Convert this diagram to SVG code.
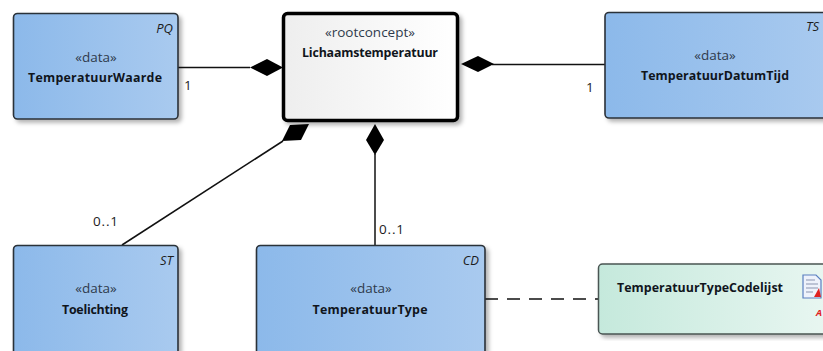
<svg xmlns="http://www.w3.org/2000/svg" width="823" height="351" viewBox="0 0 823 351">
<style>
text{font-family:"Open Sans","Noto Sans","DejaVu Sans",sans-serif;font-size:13px;text-anchor:middle;fill:#111}
.st{fill:#2f3b4c;font-size:13.500px}
.nm{font-weight:700;fill:#10151c;font-size:12.400px}
.tag{font-style:italic;text-anchor:end;font-size:13px;fill:#1c1c1c}
.mul{text-anchor:start;fill:#1c1c1c;font-size:13.500px}
.box{fill:url(#blue);stroke:#2b3138;stroke-width:1.6}
.con{stroke:#111;stroke-width:1.5;fill:none}
</style>
<defs>
<linearGradient id="blue"><stop offset="0" stop-color="#8cb9ea"/><stop offset="1" stop-color="#a9caef"/></linearGradient>
<linearGradient id="white"><stop offset="0" stop-color="#eeeeee"/><stop offset="1" stop-color="#ffffff"/></linearGradient>
<linearGradient id="green"><stop offset="0" stop-color="#c5e9dc"/><stop offset="1" stop-color="#eaf7f2"/></linearGradient>
<filter id="sh" x="-5%" y="-5%" width="112%" height="115%"><feDropShadow dx="3" dy="3" stdDeviation="2" flood-color="#000" flood-opacity=".3"/></filter>
</defs>
<g id="connectors">
<path class="con" d="M178 67.500H250"/>
<path fill="#000" d="M283 67.500L267 59L250 67.500L267 76Z"/>
<path class="con" d="M605 64.500H492"/>
<path fill="#000" d="M461 64L478 56L494 64L478 72Z"/>
<path class="con" d="M375 245V154"/>
<path fill="#000" d="M375 124L384 140L375 155L366 140Z"/>
<path class="con" d="M122 245L283 141"/>
<path fill="#000" d="M309 124L290 125L282 141L301 140Z"/>
<path class="con" d="M485 299H598" stroke-dasharray="13 9"/>
</g>
<g id="TemperatuurWaarde">
<rect class="box" x="13.500" y="13.500" width="164.500" height="105.500" rx="4" filter="url(#sh)"/>
<text class="tag" x="173" y="33">PQ</text>
<text class="st" x="96" y="62">«data»</text>
<text class="nm" x="95" y="82" textLength="134">TemperatuurWaarde</text>
</g>
<g id="Lichaamstemperatuur">
<rect x="283.500" y="13.500" width="174" height="107" rx="4" fill="url(#white)" stroke="#000" stroke-width="3.500" filter="url(#sh)"/>
<text class="st" x="370" y="37">«rootconcept»</text>
<text class="nm" x="370" y="57" textLength="136">Lichaamstemperatuur</text>
</g>
<g id="TemperatuurDatumTijd">
<rect class="box" x="605" y="12.500" width="225" height="105.500" rx="4" filter="url(#sh)"/>
<text class="tag" x="819" y="31">TS</text>
<text class="st" x="715" y="60">«data»</text>
<text class="nm" x="715" y="80" textLength="148">TemperatuurDatumTijd</text>
</g>
<g id="Toelichting">
<rect class="box" x="13.500" y="245.500" width="164.500" height="115" rx="4" filter="url(#sh)"/>
<text class="tag" x="173" y="265">ST</text>
<text class="st" x="96" y="293">«data»</text>
<text class="nm" x="95" y="314" textLength="66">Toelichting</text>
</g>
<g id="TemperatuurType">
<rect class="box" x="256.500" y="245.500" width="228.500" height="115" rx="4" filter="url(#sh)"/>
<text class="tag" x="479" y="265">CD</text>
<text class="st" x="371" y="293">«data»</text>
<text class="nm" x="370" y="314" textLength="115">TemperatuurType</text>
</g>
<g id="TemperatuurTypeCodelijst">
<rect x="598.500" y="264" width="240" height="70" rx="4" fill="url(#green)" stroke="#4a5552" stroke-width="1.500" filter="url(#sh)"/>
<text class="nm" x="700" y="292" textLength="166">TemperatuurTypeCodelijst</text>
<path d="M803 275H816L821 280V298H803Z" fill="#eef2fb" stroke="#5a7fc0" stroke-width="1.200"/>
<path d="M806 280H815M806 284H818M806 288H818M806 292H813" stroke="#8a94b0" stroke-width="1.200" fill="none"/>
<path d="M814 297L819 288L821 297Z" fill="#e02020"/>
<text x="816" y="316" style="fill:#e02020;font-style:italic;font-weight:700;font-size:9.500px;text-anchor:start">A</text>
</g>
<g id="labels">
<text class="mul" x="184" y="90">1</text>
<text class="mul" x="586" y="92">1</text>
<text class="mul" x="93" y="226" textLength="25">0..1</text>
<text class="mul" x="379" y="234" textLength="25">0..1</text>
</g>
</svg>
